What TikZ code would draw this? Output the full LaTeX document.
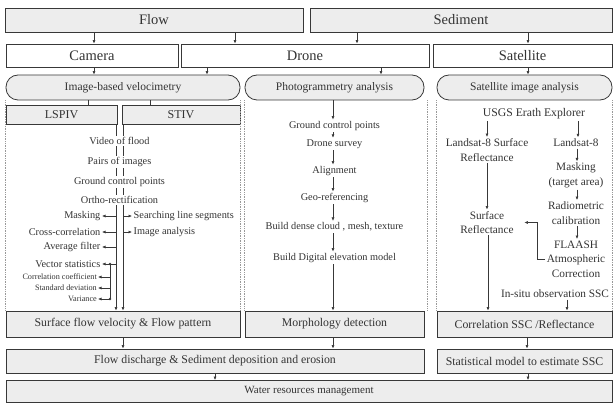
\documentclass[tikz,border=0pt]{standalone}
\usepackage{fontspec}
\setmainfont{Liberation Serif}
\usetikzlibrary{arrows.meta,positioning}
\definecolor{pLine}{gray}{0.22}
\definecolor{pText}{gray}{0.2}
\definecolor{pFill}{gray}{0.93}
\definecolor{pDot}{gray}{0.6}
\tikzset{
    hbox/.style={draw=pLine, fill=pFill, line width=0.8pt, inner sep=0pt, text=pText, font=\fontsize{14.5}{16}\selectfont},
    wbox/.style={hbox, fill=white},
    rbox/.style={hbox, rounded corners=12pt, font=\fontsize{11.5}{13}\selectfont},
    sbox/.style={hbox, font=\fontsize{11.8}{13}\selectfont},
    stepitem/.style={fill=white, inner sep=1.5pt, text=pText, font=\fontsize{10.3}{11}\selectfont},
    subitem/.style={inner sep=1pt, text=pText, font=\fontsize{8.2}{9}\selectfont},
    satitem/.style={inner sep=1.5pt, text=pText, align=center, font=\fontsize{11.3}{14.5}\selectfont},
    arr/.style={-{Latex[length=3.5pt,width=3pt]}, draw=pLine, line width=0.6pt},
    panel/.style={draw=pDot, densely dotted, line width=0.7pt}
}
\begin{document}
\begin{tikzpicture}[x=1pt,y=-1pt]
\useasboundingbox (0,0) rectangle (615,403);
% top rows
\node[hbox,minimum width=298pt,minimum height=24pt] (flow) at (154,20) {Flow};
\node[hbox,minimum width=302pt,minimum height=24pt] (sed) at (461,20) {Sediment};
\node[wbox,minimum width=172pt,minimum height=23pt] (camera) at (92,55.5) {Camera};
\node[wbox,minimum width=248pt,minimum height=23pt] (drone) at (305,55.5) {Drone};
\node[wbox,minimum width=179pt,minimum height=23pt] (sat) at (522.5,55.5) {Satellite};
\node[rbox,minimum width=234pt,minimum height=25pt] (ibv) at (123,87.5) {Image-based velocimetry};
\node[rbox,minimum width=179pt,minimum height=25pt] (photo) at (334.5,87.5) {Photogrammetry analysis};
\node[rbox,minimum width=175pt,minimum height=25pt] (satan) at (524.5,87.5) {Satellite image analysis};
\node[sbox,font=\fontsize{12}{14}\selectfont,minimum width=111pt,minimum height=19pt] (lspiv) at (61.5,114.5) {LSPIV};
\node[sbox,font=\fontsize{12}{14}\selectfont,minimum width=118pt,minimum height=19pt] (stiv) at (181,114.5) {STIV};
% bottom rows
\node[sbox,minimum width=234pt,minimum height=26pt] (surf) at (123,324) {Surface flow velocity \& Flow pattern};
\node[sbox,minimum width=179pt,minimum height=26pt] (morph) at (334.5,324) {Morphology detection};
\node[sbox,minimum width=175pt,minimum height=26pt] (corr) at (524.5,324) {Correlation SSC /Reflectance};
\node[sbox,minimum width=418pt,minimum height=24pt] (disch) at (215,361) {Flow discharge \& Sediment deposition and erosion};
\node[sbox,minimum width=175pt,minimum height=24pt] (stat) at (524.5,361) {Statistical model to estimate SSC};
\node[sbox,font=\fontsize{11}{12}\selectfont,minimum width=606pt,minimum height=22pt] (water) at (309,391.5) {Water resources management};
% dotted panels
\draw[panel] (ibv.south west) -- (surf.north west);
\draw[panel] (ibv.south east) -- (surf.north east);
\draw[panel] (photo.south west) -- (morph.north west);
\draw[panel] ([xshift=3pt]photo.south east) -- ([xshift=3pt]morph.north east);
\draw[panel] (satan.south west) -- (corr.north west);
\draw[panel] (satan.south east) -- (corr.north east);
% arrows between the rows
\draw[arr] (flow.south -| 94,0) -- (camera.north -| 94,0);
\draw[arr] (flow.south -| 235,0) -- (drone.north -| 235,0);
\draw[arr] (sed.south -| 357,0) -- (drone.north -| 357,0);
\draw[arr] (sed.south -| 528,0) -- (sat.north -| 528,0);
\draw[arr] (camera.south -| 94,0) -- (ibv.north -| 94,0);
\draw[arr] (drone.south -| 207,0) -- (ibv.north -| 207,0);
\draw[arr] (drone.south -| 381,0) -- (photo.north -| 381,0);
\draw[arr] (sat.south -| 528,0) -- (satan.north -| 528,0);
\draw[pLine,line width=0.6pt] (ibv.south -| 88,0) -- (lspiv.north -| 88,0);
\draw[pLine,line width=0.6pt] (ibv.south -| 150,0) -- (stiv.north -| 150,0);
\draw[arr] (surf.south -| 123,0) -- (disch.north -| 123,0);
\draw[arr] (morph.south -| 333,0) -- (disch.north -| 333,0);
\draw[arr] (corr.south -| 527,0) -- (stat.north -| 527,0);
\draw[arr] (disch.south -| 215,0) -- (water.north -| 215,0);
\draw[arr] (stat.south -| 528,0) -- (water.north -| 528,0);
% image-based velocimetry
\draw[arr] (lspiv.south -| 116,0) -- (surf.north -| 116,0);
\draw[arr] (stiv.south -| 123,0) -- (surf.north -| 123,0);
\node[stepitem] (video) at (119.5,141) {Video of flood};
\node[stepitem] (pairs) at (119.5,162) {Pairs of images};
\node[stepitem] (gcp) at (119.5,182) {Ground control points};
\node[stepitem] (ortho) at (119.5,200) {Ortho-rectification};
\node[stepitem,fill=none,anchor=east] (masking) at (102,216) {Masking};
\node[stepitem,fill=none,anchor=east] (crosscor) at (102,232) {Cross-correlation};
\node[stepitem,fill=none,anchor=east] (avgfilter) at (102,247) {Average filter};
\node[stepitem,fill=none,anchor=east] (vecstat) at (102,264) {Vector statistics};
\node[stepitem,fill=none,anchor=west] (search) at (132,216) {Searching line segments};
\node[stepitem,fill=none,anchor=west] (imgan) at (132,232) {Image analysis};
\node[subitem,anchor=east] (corcoef) at (98,277) {Correlation coefficient};
\node[subitem,anchor=east] (stdev) at (98,288) {Standard deviation};
\node[subitem,anchor=east] (variance) at (98,299) {Variance};
\draw[arr] (masking.east -| 116,0) -- (masking.east);
\draw[arr] (crosscor.east -| 116,0) -- (crosscor.east);
\draw[arr] (avgfilter.east -| 116,0) -- (avgfilter.east);
\draw[arr] (vecstat.east -| 116,0) -- (vecstat.east);
\draw[arr] (search.west -| 123,0) -- (search.west);
\draw[arr] (imgan.west -| 123,0) -- (imgan.west);
\draw[pLine,line width=0.6pt] (vecstat.east -| 110,0) -- (variance.east -| 110,0);
\fill[pLine] (vecstat.east -| 110,0) circle (1.4pt) (variance.east -| 110,0) circle (1.4pt);
\draw[arr] (corcoef.east -| 110,0) -- (corcoef.east);
\draw[arr] (stdev.east -| 110,0) -- (stdev.east);
\draw[arr] (variance.east -| 110,0) -- (variance.east);
% photogrammetry
\node[stepitem] (gcpd) at (334.5,126) {Ground control points};
\node[stepitem] (survey) at (334.5,144) {Drone survey};
\node[stepitem] (align) at (334.5,171) {Alignment};
\node[stepitem] (georef) at (334.5,198) {Geo-referencing};
\node[stepitem] (dense) at (334.5,227) {Build dense cloud , mesh, texture};
\node[stepitem] (dem) at (334.5,258) {Build Digital elevation model};
\draw[arr] (photo.south -| 333,0) -- (gcpd.north -| 333,0);
\draw[arr] (gcpd.south -| 333,0) -- (survey.north -| 333,0);
\draw[arr] (survey.south -| 333,0) -- (align.north -| 333,0);
\draw[arr] (align.south -| 333,0) -- (georef.north -| 333,0);
\draw[arr] (georef.south -| 333,0) -- (dense.north -| 333,0);
\draw[arr] (dense.south -| 333,0) -- (dem.north -| 333,0);
\draw[arr] (dem.south -| 333,0) -- (morph.north -| 333,0);
% satellite
\node[satitem,font=\fontsize{11.7}{13}\selectfont] (usgs) at (534,114) {USGS Erath Explorer};
\node[satitem] (lsr) at (487,150) {Landsat-8 Surface\\Reflectance};
\node[satitem] (ls8) at (576,143) {Landsat-8};
\node[satitem] (mask) at (576,175.5) {Masking\\(target area)};
\node[satitem] (radio) at (576,213) {Radiometric\\calibration};
\node[satitem] (flaash) at (576,259) {FLAASH\\Atmospheric\\Correction};
\node[satitem] (sr) at (487,222.5) {Surface\\Reflectance};
\node[satitem] (insitu) at (555,294) {In-situ observation SSC};
\draw[arr] (usgs.south -| 487,0) -- (lsr.north -| 487,0);
\draw[arr] (usgs.south -| 578,0) -- (ls8.north -| 578,0);
\draw[arr] (ls8.south -| 577,0) -- (mask.north -| 577,0);
\draw[arr] (mask.south -| 577,0) -- (radio.north -| 577,0);
\draw[arr] (radio.south -| 577,0) -- (flaash.north -| 577,0);
\draw[arr] (lsr.south -| 487,0) -- (sr.north -| 487,0);
\draw[arr] (sr.south -| 488,0) -- (corr.north -| 488,0);
\draw[arr] (insitu.south -| 567,0) -- (corr.north -| 567,0);
\draw[arr] (flaash.west) -- (flaash.west -| 537,0) |- ([xshift=9pt]sr.east);
\end{tikzpicture}
\end{document}
